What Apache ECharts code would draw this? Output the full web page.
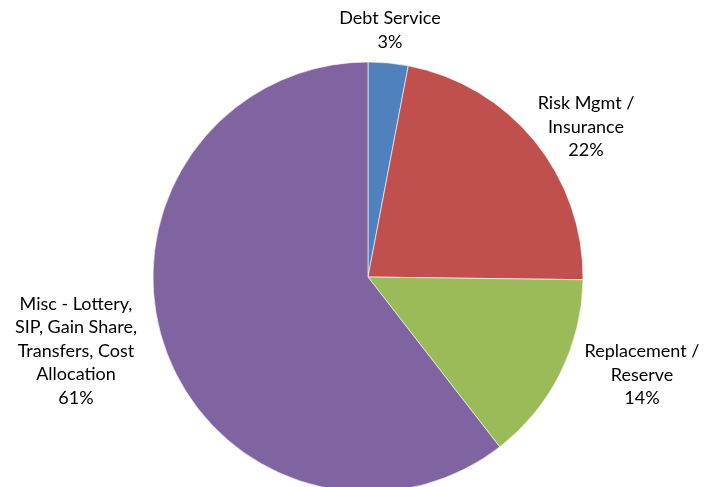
<!DOCTYPE html>
<html>
<head>
<meta charset="utf-8">
<script src="https://cdn.jsdelivr.net/npm/echarts@6/dist/echarts.min.js"></script>
<style>
  html, body { margin: 0; padding: 0; background: #fff; }
  #pie { width: 704px; height: 487px; }
</style>
</head>
<body>
<div id="pie"></div>
<script>
// slice names and shares (percent of total), clockwise from 12 o'clock
const categories = ['Debt Service', 'Risk Mgmt /\nInsurance', 'Replacement /\nReserve', 'Misc - Lottery,\nSIP, Gain Share,\nTransfers, Cost\nAllocation']
const shares = [3.0, 22.2, 14.3, 60.5]
const colors = ['#4F81BD', '#C0504D', '#9BBB59', '#8064A2']

// where each label block is centred (pixels), Excel style outside labels
const labelPos = [[390, 30], [586, 127], [642, 375], [76, 351]]

const chart = echarts.init(document.getElementById('pie'))
const option = {
  animation: false,
  color: colors,
  series: [
    {
      type: 'pie',
      center: [368, 277],
      radius: 215,
      startAngle: 90,
      clockwise: true,
      avoidLabelOverlap: false,
      itemStyle: {
        borderColor: '#ffffff',
        borderWidth: 0.6
      },
      label: {
        show: true,
        position: 'outside',
        color: '#000',
        fontFamily: 'Lato',
        fontSize: 18,
        lineHeight: 23.5,
        formatter: function (p) {
          return p.name + '\n' + Math.round(p.percent) + '%'
        }
      },
      labelLine: { show: false },
      labelLayout: function (p) {
        const pos = labelPos[p.dataIndex]
        return { x: pos[0], y: pos[1], align: 'center', verticalAlign: 'middle' }
      },
      data: categories.map((name, i) => ({ name: name, value: shares[i] }))
    }
  ]
}
chart.setOption(option)
</script>
</body>
</html>
